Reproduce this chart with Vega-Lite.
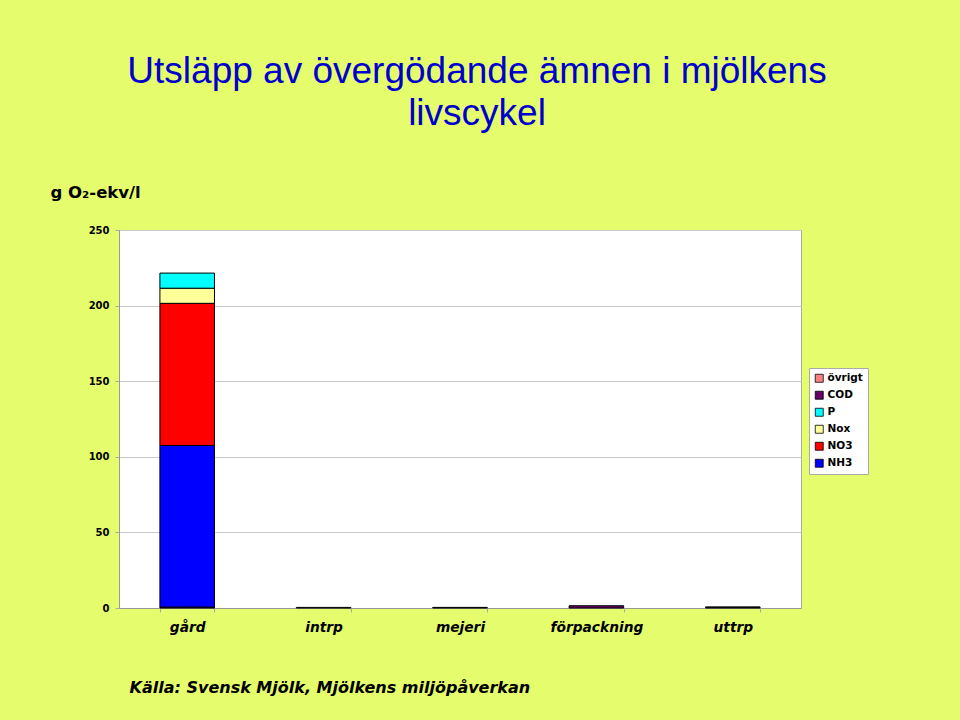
{
  "$schema": "https://vega.github.io/schema/vega-lite/v6.json",
  "width": 682,
  "height": 378,
  "autosize": {"type": "none"},
  "padding": {"left": 119, "top": 230, "right": 159, "bottom": 112},
  "background": "#e5fd6c",
  "title": {
    "text": ["Utsläpp av övergödande ämnen i mjölkens", "livscykel"],
    "font": "Liberation Sans",
    "fontSize": 37,
    "fontWeight": "normal",
    "color": "#0000cc",
    "anchor": "middle",
    "lineHeight": 42,
    "dx": 17,
    "offset": 51
  },
  "data": {
    "values": [
      {"stage": "gård", "component": "NH3", "value": 107},
      {"stage": "gård", "component": "NO3", "value": 94},
      {"stage": "gård", "component": "Nox", "value": 10},
      {"stage": "gård", "component": "P", "value": 10},
      {"stage": "gård", "component": "COD", "value": 0.5},
      {"stage": "intrp", "component": "Nox", "value": 0.4},
      {"stage": "mejeri", "component": "COD", "value": 0.4},
      {"stage": "förpackning", "component": "COD", "value": 1.5},
      {"stage": "uttrp", "component": "Nox", "value": 0.4},
      {"stage": "uttrp", "component": "övrigt", "value": 0.3}
    ]
  },
  "mark": {"type": "bar", "stroke": "black", "strokeWidth": 1},
  "encoding": {
    "x": {
      "field": "stage",
      "type": "nominal",
      "sort": ["gård", "intrp", "mejeri", "förpackning", "uttrp"],
      "scale": {"paddingInner": 0.6, "paddingOuter": 0.3},
      "axis": {
        "labelAngle": 0,
        "labelFont": "DejaVu Sans",
        "labelFontSize": 13.75,
        "labelFontWeight": "bold",
        "labelFontStyle": "italic",
        "labelColor": "black",
        "labelPadding": 8,
        "tickBand": "extent",
        "tickSize": 4,
        "tickColor": "#aaaaaa",
        "domainColor": "#999999",
        "title": "Källa: Svensk Mjölk, Mjölkens miljöpåverkan",
        "titleFont": "DejaVu Sans",
        "titleFontSize": 16,
        "titleFontWeight": "bold",
        "titleFontStyle": "italic",
        "titleColor": "black",
        "titleAnchor": "start",
        "titleAlign": "left",
        "titleBaseline": "alphabetic",
        "titleX": 10,
        "titleY": 84
      }
    },
    "y": {
      "field": "value",
      "type": "quantitative",
      "scale": {"domain": [0, 250]},
      "axis": {
        "values": [0, 50, 100, 150, 200, 250],
        "labelFont": "DejaVu Sans",
        "labelFontSize": 10,
        "labelFontWeight": "bold",
        "labelColor": "black",
        "labelPadding": 6,
        "tickSize": 4,
        "tickColor": "#aaaaaa",
        "domainColor": "#999999",
        "gridColor": "#c8c8c8",
        "title": "g O₂-ekv/l",
        "titleFont": "DejaVu Sans",
        "titleFontSize": 16.5,
        "titleFontWeight": "bold",
        "titleColor": "black",
        "titleAngle": 0,
        "titleAlign": "left",
        "titleBaseline": "alphabetic",
        "titleX": -69,
        "titleY": -33
      }
    },
    "color": {
      "field": "component",
      "type": "nominal",
      "scale": {
        "domain": ["övrigt", "COD", "P", "Nox", "NO3", "NH3"],
        "range": ["#ff8080", "#660066", "#00ffff", "#ffff99", "#ff0000", "#0000ff"]
      },
      "legend": {
        "title": null,
        "orient": "none",
        "legendX": 690,
        "legendY": 138,
        "fillColor": "white",
        "strokeColor": "#aaaaaa",
        "padding": 5,
        "symbolType": "square",
        "symbolSize": 64,
        "symbolStrokeColor": "black",
        "symbolStrokeWidth": 0.8,
        "labelFont": "DejaVu Sans",
        "labelFontSize": 10.5,
        "labelFontWeight": "bold",
        "labelColor": "black",
        "rowPadding": 5,
        "labelOffset": 3
      }
    },
    "order": {"field": "component", "sort": "ascending"}
  },
  "config": {
    "view": {"fill": "white", "stroke": "#aaaaaa"}
  }
}
